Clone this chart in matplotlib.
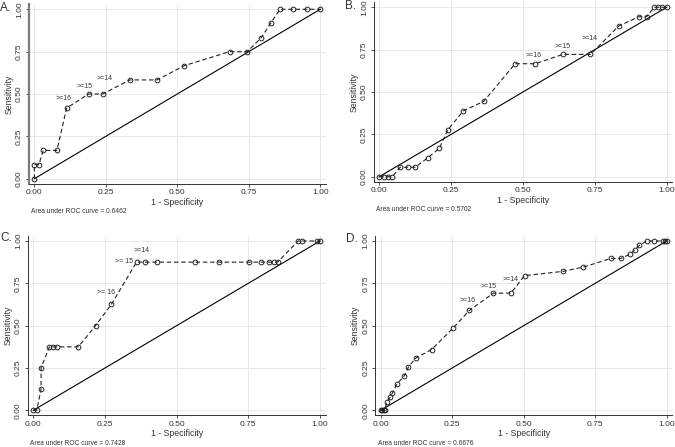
import matplotlib
matplotlib.use('Agg')
import matplotlib.pyplot as plt

# ROC points (1 - specificity, sensitivity)
a_fpr = [0, 0, 0.016, 0.031, 0.079, 0.113, 0.19, 0.239, 0.334, 0.429, 0.524,
         0.683, 0.745, 0.794, 0.826, 0.859, 0.906, 0.955, 1.0]
a_sens = [0, 0.083, 0.083, 0.167, 0.167, 0.417, 0.5, 0.5, 0.583, 0.583, 0.667,
          0.75, 0.75, 0.833, 0.917, 1, 1, 1, 1]

b_fpr = [0, 0.015, 0.03, 0.045, 0.073, 0.1, 0.126, 0.168, 0.209, 0.239, 0.293,
         0.363, 0.473, 0.543, 0.639, 0.735, 0.833, 0.903, 0.93, 0.957, 0.971,
         0.985, 1.0]
b_sens = [0, 0, 0, 0, 0.056, 0.056, 0.056, 0.111, 0.167, 0.278, 0.389,
          0.444, 0.667, 0.667, 0.722, 0.722, 0.889, 0.944, 0.944, 1, 1, 1, 1]

c_fpr = [0, 0.012, 0.027, 0.027, 0.056, 0.07, 0.084, 0.157, 0.217, 0.272,
         0.36, 0.391, 0.433, 0.564, 0.648, 0.751, 0.793, 0.823, 0.84, 0.852,
         0.924, 0.936, 0.988, 1.0]
c_sens = [0, 0, 0.125, 0.25, 0.375, 0.375, 0.375, 0.375, 0.5, 0.625,
          0.875, 0.875, 0.875, 0.875, 0.875, 0.875, 0.875, 0.875, 0.875, 0.875,
          1, 1, 1, 1]

d_fpr = [0, 0.005, 0.01, 0.015, 0.021, 0.033, 0.041, 0.056, 0.083, 0.097,
         0.122, 0.178, 0.254, 0.31, 0.394, 0.455, 0.503, 0.639, 0.709, 0.805,
         0.84, 0.873, 0.889, 0.904, 0.93, 0.956, 0.986, 0.994, 1.0]
d_sens = [0, 0, 0, 0, 0.051, 0.077, 0.103, 0.154, 0.205, 0.256,
          0.308, 0.359, 0.487, 0.590, 0.692, 0.692, 0.795, 0.821, 0.846, 0.897,
          0.897, 0.923, 0.949, 0.974, 1, 1, 1, 1, 1]

auc = ['0.6462', '0.5702', '0.7428', '0.6676']
panel_names = ['A.', 'B.', 'C.', 'D.']

# cut-off labels (x, y, text)
cut_labels = [
    [(0.101, 0.472, '>=16'), (0.176, 0.545, '>=15'), (0.247, 0.591, '>=14')],
    [(0.537, 0.713, '>=16'), (0.638, 0.769, '>=15'), (0.733, 0.813, '>=14')],
    [(0.253, 0.695, '>= 16'), (0.316, 0.876, '>= 15'), (0.378, 0.945, '>=14')],
    [(0.304, 0.647, '>=16'), (0.376, 0.732, '>=15'), (0.453, 0.772, '>=14')],
]

W, H = 675, 447
# axes boxes in pixels: left, right, top, bottom
boxes = [(28.6, 326.0, 4.2, 183.8),
         (373.5, 672.4, 2.2, 181.8),
         (27.6, 325.7, 235.9, 415.4),
         (375.0, 672.4, 235.9, 415.4)]
name_pos = [(0, 2), (345, 0), (0, 232), (346, 233)]

plt.rcParams['font.family'] = ['Liberation Sans', 'DejaVu Sans']
txt = '#333333'

fig = plt.figure(figsize=(W / 100, H / 100), dpi=100)

series = [(a_fpr, a_sens), (b_fpr, b_sens), (c_fpr, c_sens), (d_fpr, d_sens)]
for i, (fpr, sens) in enumerate(series):
    l, r, t, b = boxes[i]
    ax = fig.add_axes([l / W, 1 - b / H, (r - l) / W, (b - t) / H])
    ax.set_xlim(-0.02, 1.02)
    ax.set_ylim(-0.03, 1.03)
    ticks = [0, 0.25, 0.5, 0.75, 1]
    ax.set_xticks(ticks)
    ax.set_yticks(ticks)
    ax.set_xticklabels(['0.00', '0.25', '0.50', '0.75', '1.00'], fontsize=6, color=txt)
    ax.set_yticklabels(['0.00', '0.25', '0.50', '0.75', '1.00'], fontsize=6,
                       color=txt, rotation=90, va='center')
    ax.tick_params(length=2.5, width=0.6, color='#333333', pad=1.5)
    ax.grid(True, color='#e8e8e8', linewidth=0.7)
    ax.set_axisbelow(True)
    for s in ['top', 'right']:
        ax.spines[s].set_visible(False)
    for s in ['left', 'bottom']:
        ax.spines[s].set_linewidth(0.7)
        ax.spines[s].set_color('#333333')
    if i == 0:
        ax.spines['left'].set_linewidth(1.6)
        ax.spines['left'].set_color('#7a7a7a')

    ax.plot([0, 1], [0, 1], color='black', linewidth=0.8)
    ax.plot(fpr, sens, color='#222222', linewidth=0.8, dashes=(4, 2.5),
            marker='o', markersize=3.4, markerfacecolor='none',
            markeredgecolor='#222222', markeredgewidth=0.7)

    for x, y, s in cut_labels[i]:
        ax.text(x, y, s, fontsize=5, color=txt, ha='center', va='center')

    ax.set_xlabel('1 - Specificity', fontsize=6.3, color=txt, labelpad=1)
    ax.set_ylabel('Sensitivity', fontsize=6.3, color=txt, labelpad=2)

    fig.text(l / W + 0.004, 1 - (b + 28) / H, 'Area under ROC curve = ' + auc[i],
             fontsize=4.8, color=txt, ha='left', va='center')
    nx, ny = name_pos[i]
    fig.text(nx / W, 1 - ny / H, panel_names[i], fontsize=8.5, color=txt,
             ha='left', va='top')

fig.savefig('out.png', dpi=100, facecolor='white')
